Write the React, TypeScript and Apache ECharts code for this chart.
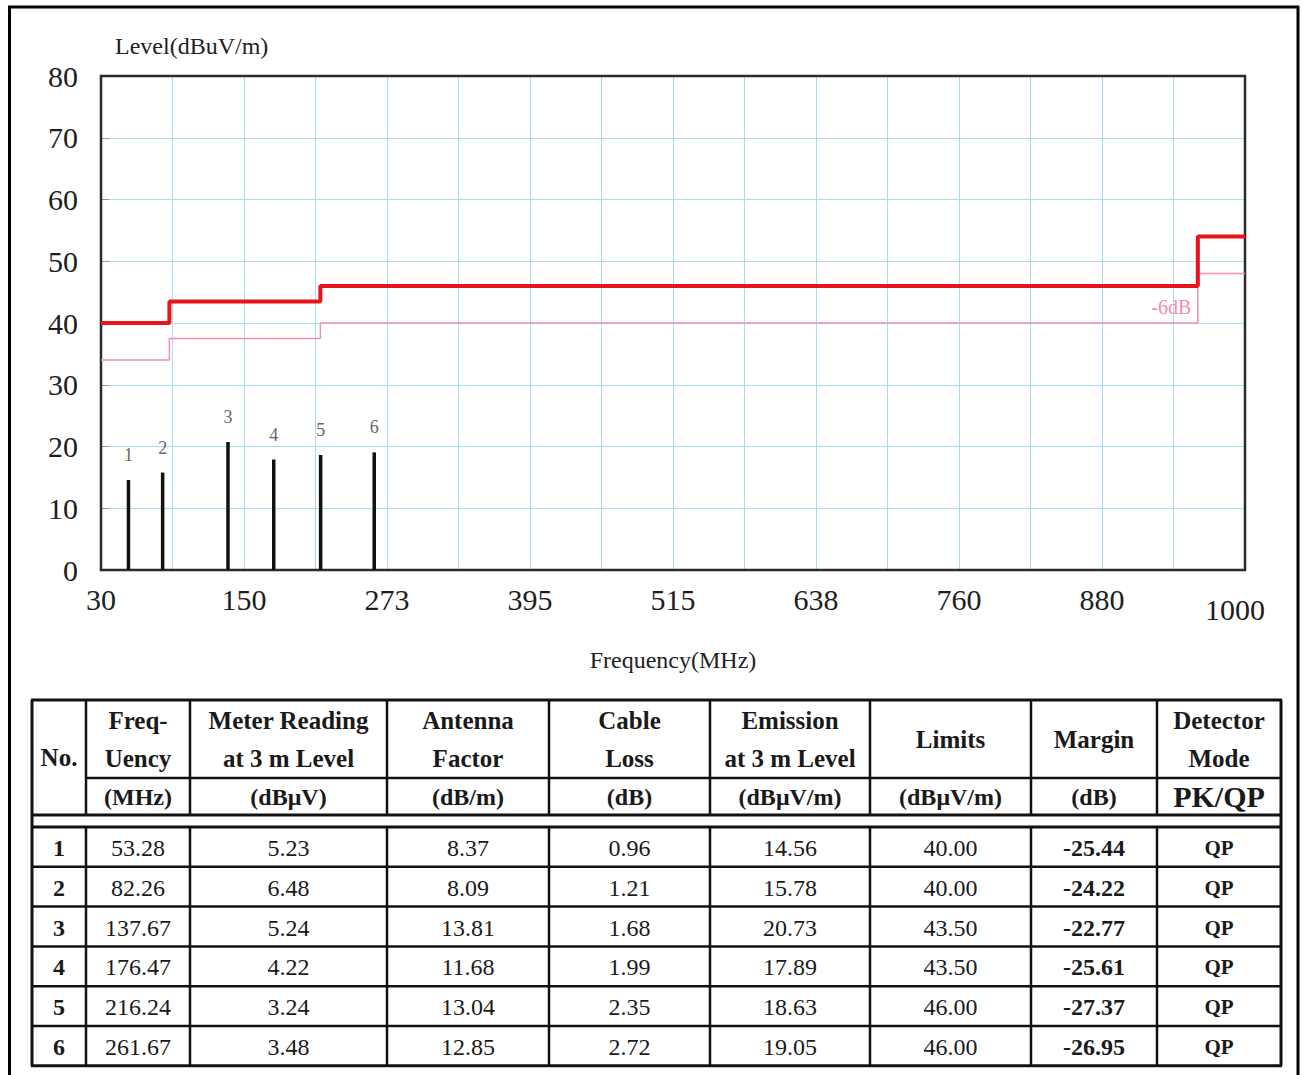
import React, { useEffect, useRef } from 'react';
import * as echarts from 'echarts';

// ---- data ----
const markerNo = ['1', '2', '3', '4', '5', '6'];
const frequency = [53.28, 82.26, 137.67, 176.47, 216.24, 261.67];
const meterReading = [5.23, 6.48, 5.24, 4.22, 3.24, 3.48];
const antennaFactor = [8.37, 8.09, 13.81, 11.68, 13.04, 12.85];
const cableLoss = [0.96, 1.21, 1.68, 1.99, 2.35, 2.72];
const emissionLevel = [14.56, 15.78, 20.73, 17.89, 18.63, 19.05];
const limitValues = [40.0, 40.0, 43.5, 43.5, 46.0, 46.0];
const marginValues = [-25.44, -24.22, -22.77, -25.61, -27.37, -26.95];
const detectorMode = ['QP', 'QP', 'QP', 'QP', 'QP', 'QP'];

const limitFreq = [30, 88, 216, 960, 1000];
const limitLevel = [40, 43.5, 46, 54, 54];
const limitMinus6 = [34, 37.5, 40, 48, 48];

const xTickLabels = ['30', '150', '273', '395', '515', '638', '760', '880', '1000'];

const headerTop = [
  ['No.'],
  ['Freq-', 'Uency'],
  ['Meter Reading', 'at 3 m Level'],
  ['Antenna', 'Factor'],
  ['Cable', 'Loss'],
  ['Emission', 'at 3 m Level'],
  ['Limits'],
  ['Margin'],
  ['Detector', 'Mode'],
];
const headerUnits = ['', '(MHz)', '(dBμV)', '(dB/m)', '(dB)', '(dBμV/m)', '(dBμV/m)', '(dB)', 'PK/QP'];

const FONT = '"Liberation Serif", "Times New Roman", serif';

function buildTable(): any[] {
  const els: any[] = [];
  const colX = [32, 86, 190, 387, 549, 710, 870, 1031, 1157, 1281];
  const tTop = 700, tMid = 778, tHead = 815, tStrip = 827, rowH = 39.8;
  const nRows = frequency.length;
  const tBottom = tStrip + rowH * nRows;
  const L = colX[0], R = colX[colX.length - 1];
  const line = (x1: number, y1: number, x2: number, y2: number, w = 2.5) => ({
    type: 'line',
    shape: { x1, y1, x2, y2 },
    style: { stroke: '#111', lineWidth: w },
    z: 10,
  });
  // horizontal lines
  els.push(line(L - 1, tTop, R + 1, tTop, 3));
  els.push(line(colX[1], tMid, R, tMid));
  els.push(line(L, tHead, R, tHead, 3));
  els.push(line(L, tStrip, R, tStrip, 3));
  for (let i = 1; i <= nRows; i++) {
    els.push(line(L - 1, tStrip + rowH * i, R + 1, tStrip + rowH * i, i === nRows ? 3 : 2.5));
  }
  // vertical lines
  els.push(line(L, tTop, L, tBottom, 3));
  els.push(line(R, tTop, R, tBottom, 3));
  for (let c = 1; c < colX.length - 1; c++) {
    els.push(line(colX[c], tTop, colX[c], tHead));
    els.push(line(colX[c], tStrip, colX[c], tBottom));
  }
  const txt = (s: string, x: number, y: number, size: number, bold: boolean) => ({
    type: 'text',
    x,
    y,
    z: 11,
    style: {
      text: s,
      align: 'center',
      verticalAlign: 'middle',
      fontSize: size,
      fontFamily: FONT,
      fontWeight: bold ? 'bold' : 'normal',
      fill: '#1a1a1a',
    },
  });
  // header
  for (let c = 0; c < headerTop.length; c++) {
    const cx = (colX[c] + colX[c + 1]) / 2;
    const lines = headerTop[c];
    if (c === 0) {
      els.push(txt(lines[0], cx, 757, 25, true));
    } else if (lines.length === 2) {
      els.push(txt(lines[0], cx, 720, 25, true));
      els.push(txt(lines[1], cx, 758, 25, true));
    } else {
      els.push(txt(lines[0], cx, 739, 25, true));
    }
    if (headerUnits[c]) {
      const big = headerUnits[c] === 'PK/QP';
      els.push(txt(headerUnits[c], cx, big ? 796 : 797, big ? 30 : 24, true));
    }
  }
  // data rows
  for (let i = 0; i < nRows; i++) {
    const cy = tStrip + rowH * (i + 0.5) + 1;
    const vals = [
      markerNo[i],
      frequency[i].toFixed(2),
      meterReading[i].toFixed(2),
      antennaFactor[i].toFixed(2),
      cableLoss[i].toFixed(2),
      emissionLevel[i].toFixed(2),
      limitValues[i].toFixed(2),
      marginValues[i].toFixed(2),
      detectorMode[i],
    ];
    for (let c = 0; c < vals.length; c++) {
      const cx = (colX[c] + colX[c + 1]) / 2;
      const bold = c === 0 || c === 7 || c === 8;
      els.push(txt(vals[c], cx, cy, c === 8 ? 21 : 24, bold));
    }
  }
  // outer frame
  const frame = (x1: number, y1: number, x2: number, y2: number) => ({
    type: 'line',
    shape: { x1, y1, x2, y2 },
    style: { stroke: '#000', lineWidth: 3 },
    z: 10,
  });
  els.push(frame(8, 7, 1299, 7));
  els.push(frame(9.5, 6, 9.5, 1075));
  els.push(frame(1298, 6, 1298, 1075));
  return els;
}

export default function App() {
  const ref = useRef<HTMLDivElement>(null);
  useEffect(() => {
    if (!ref.current) return;
    const chart = echarts.init(ref.current, null, { renderer: 'svg' });
    const gridColor = '#a9dced';
    const option: any = {
      animation: false,
      backgroundColor: '#ffffff',
      grid: {
        left: 101,
        right: 58,
        top: 76,
        bottom: 505,
        show: true,
        borderColor: '#2b2b2b',
        borderWidth: 2.5,
        backgroundColor: 'rgba(0,0,0,0)',
        z: 3,
      },
      xAxis: [
        { type: 'value', min: 30, max: 1000, show: false },
        {
          type: 'value',
          min: 0,
          max: 16,
          interval: 1,
          position: 'bottom',
          axisLine: { show: false },
          axisTick: { show: false },
          splitLine: {
            show: true,
            showMinLine: false,
            showMaxLine: false,
            lineStyle: { color: gridColor, width: 1 },
          },
          axisLabel: {
            margin: 14,
            fontSize: 30,
            fontFamily: FONT,
            color: '#1e1e1e',
            formatter: (v: number) => {
              const i = Math.round(v);
              if (i % 2 !== 0) return '';
              const s = xTickLabels[i / 2];
              return i === 16 ? '{last|' + s + '}' : s;
            },
            rich: {
              last: {
                fontSize: 30,
                fontFamily: FONT,
                color: '#1e1e1e',
                padding: [10, 20, 0, 0],
              },
            },
          },
          name: 'Frequency(MHz)',
          nameLocation: 'middle',
          nameGap: 78,
          nameTextStyle: { fontSize: 24, fontFamily: FONT, color: '#222' },
        },
      ],
      yAxis: {
        type: 'value',
        min: 0,
        max: 80,
        interval: 10,
        axisLine: { show: false },
        axisTick: { show: true, inside: true, length: 8, lineStyle: { color: '#8a9a9a' } },
        splitLine: {
          show: true,
          showMinLine: false,
          showMaxLine: false,
          lineStyle: { color: gridColor, width: 1 },
        },
        axisLabel: { margin: 23, fontSize: 30, fontFamily: FONT, color: '#1e1e1e' },
        name: 'Level(dBuV/m)',
        nameLocation: 'end',
        nameGap: 18,
        nameTextStyle: {
          fontSize: 24,
          fontFamily: FONT,
          color: '#222',
          align: 'left',
          verticalAlign: 'bottom',
          padding: [0, 0, 0, 14],
        },
      },
      series: [
        {
          type: 'line',
          name: 'Limit',
          xAxisIndex: 0,
          step: 'end',
          symbol: 'none',
          data: limitFreq.map((f, i) => [f, limitLevel[i]]),
          lineStyle: { color: '#e8141b', width: 4 },
          z: 4,
        },
        {
          type: 'line',
          name: '-6dB',
          xAxisIndex: 0,
          step: 'end',
          symbol: 'none',
          data: limitFreq.map((f, i) => [f, limitMinus6[i]]),
          lineStyle: { color: '#f28dba', width: 1.5 },
          z: 3,
          markPoint: {
            symbol: 'rect',
            symbolSize: 1,
            itemStyle: { color: 'rgba(0,0,0,0)' },
            label: {
              show: true,
              position: 'left',
              distance: 6,
              offset: [0, -16],
              formatter: '-6dB',
              color: '#f28dba',
              fontSize: 20,
              fontFamily: FONT,
            },
            data: [{ coord: [limitFreq[3], limitMinus6[2]] }],
          },
        },
        {
          type: 'bar',
          name: 'Emission',
          xAxisIndex: 0,
          barWidth: 3.5,
          data: frequency.map((f, i) => [f, emissionLevel[i]]),
          itemStyle: { color: '#111' },
          label: {
            show: true,
            position: 'top',
            distance: 16,
            formatter: (p: any) => markerNo[p.dataIndex],
            color: '#666',
            fontSize: 18,
            fontFamily: FONT,
          },
          z: 5,
        },
      ],
      graphic: { elements: buildTable() },
    };
    chart.setOption(option);
    return () => chart.dispose();
  }, []);
  return (
    <div
      ref={ref}
      style={{ position: 'absolute', left: 0, top: 0, width: 1303, height: 1075, background: '#fff' }}
    />
  );
}
